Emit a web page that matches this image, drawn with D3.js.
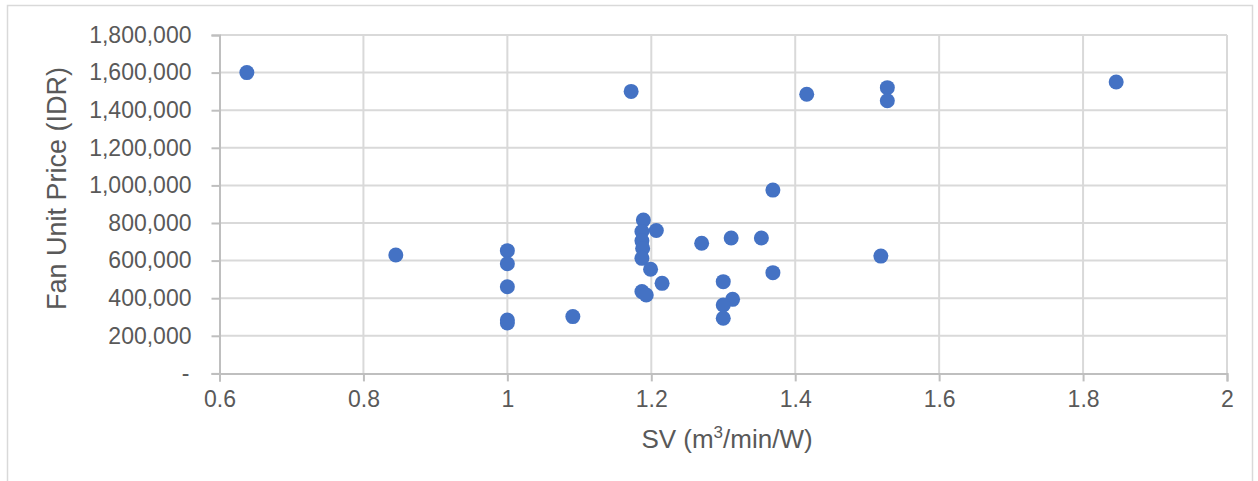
<!DOCTYPE html>
<html>
<head>
<meta charset="utf-8">
<script src="https://cdn.jsdelivr.net/npm/d3@7"></script>
<style>
  html, body { margin: 0; padding: 0; background: #ffffff; }
  svg { display: block; }
  text { font-family: "Liberation Sans", Arial, sans-serif; fill: #595959; }
</style>
</head>
<body>
<svg id="chart" width="1258" height="481"></svg>
<script>
// ---- Data ----
const svValues = [0.638, 1.172, 1.416, 1.528, 1.528, 1.846, 1.369, 1.189, 1.207, 1.187, 1.187, 1.188, 1.187,
                  1.270, 1.311, 1.353, 1.199, 1.215, 1.187, 1.193, 1.000, 1.000, 1.000, 1.000, 1.000,
                  1.091, 0.845, 1.300, 1.313, 1.300, 1.300, 1.369, 1.519];
const priceValues = [1600000, 1500000, 1485000, 1520000, 1450000, 1550000, 975000, 816000, 760000, 755000, 705000, 665000, 612000,
                     692000, 720000, 720000, 554000, 479000, 435000, 417000, 653000, 583000, 461000, 284000, 268000,
                     302000, 630000, 488000, 394000, 364000, 293000, 536000, 624000];
const xTicks = [0.6, 0.8, 1, 1.2, 1.4, 1.6, 1.8, 2];
const yTicks = [0, 200000, 400000, 600000, 800000, 1000000, 1200000, 1400000, 1600000, 1800000];
const xTitle = "SV (m";
const xTitleSup = "3";
const xTitleEnd = "/min/W)";
const yTitle = "Fan Unit Price (IDR)";

// ---- Layout ----
const svg = d3.select("#chart");
const plot = { left: 219.5, right: 1227, top: 35, bottom: 373.4 };

svg.append("rect")
  .attr("x", 7.5).attr("y", 5.5).attr("width", 1245).attr("height", 490)
  .attr("fill", "#ffffff").attr("stroke", "#d9d9d9").attr("stroke-width", 1.5);

const x = d3.scaleLinear().domain([0.6, 2]).range([plot.left, plot.right]);
const y = d3.scaleLinear().domain([0, 1800000]).range([plot.bottom, plot.top]);

// Gridlines
svg.append("g").selectAll("line").data(yTicks.filter(d => d > 0)).join("line")
  .attr("x1", plot.left).attr("x2", plot.right)
  .attr("y1", d => y(d)).attr("y2", d => y(d))
  .attr("stroke", "#d9d9d9").attr("stroke-width", 2);
svg.append("g").selectAll("line").data(xTicks.filter(d => d > 0.6)).join("line")
  .attr("x1", d => x(d)).attr("x2", d => x(d))
  .attr("y1", plot.top).attr("y2", plot.bottom)
  .attr("stroke", "#d9d9d9").attr("stroke-width", 2);

// Axes
const fmt = d3.format(",");
const yAxis = d3.axisLeft(y).tickValues(yTicks)
  .tickFormat(d => d === 0 ? "-" : fmt(d))
  .tickSize(8).tickPadding(20);
const gy = svg.append("g").attr("transform", `translate(${plot.left},0)`).call(yAxis);
gy.select(".domain").attr("stroke", "#bfbfbf").attr("stroke-width", 2);
gy.selectAll(".tick line").attr("stroke", "#bfbfbf").attr("stroke-width", 2);
gy.selectAll(".tick text").attr("font-size", 23).attr("fill", "#595959")
  .style("font-family", "'Liberation Sans', Arial, sans-serif")
  .attr("dx", d => d === 0 ? -2 : 0);

const xAxis = d3.axisBottom(x).tickValues(xTicks)
  .tickFormat(d => String(d))
  .tickSize(8).tickPadding(9);
const gx = svg.append("g").attr("transform", `translate(0,${plot.bottom})`).call(xAxis);
gx.select(".domain").attr("stroke", "#bfbfbf").attr("stroke-width", 2);
gx.selectAll(".tick line").attr("stroke", "#bfbfbf").attr("stroke-width", 2);
gx.selectAll(".tick text").attr("font-size", 23).attr("fill", "#595959")
  .style("font-family", "'Liberation Sans', Arial, sans-serif");

// Titles
const xt = svg.append("text")
  .attr("x", 727).attr("y", 448)
  .attr("text-anchor", "middle")
  .attr("font-size", 26);
xt.append("tspan").text(xTitle);
xt.append("tspan").attr("dy", -10).attr("font-size", 17).text(xTitleSup);
xt.append("tspan").attr("dy", 10).text(xTitleEnd);

svg.append("text")
  .attr("transform", "translate(66,188.5) rotate(-90)")
  .attr("text-anchor", "middle")
  .attr("font-size", 27)
  .text(yTitle);

// Points
const pts = d3.zip(svValues, priceValues);
svg.append("g").selectAll("circle").data(pts).join("circle")
  .attr("cx", d => x(d[0])).attr("cy", d => y(d[1]))
  .attr("r", 7.5)
  .attr("fill", "#4472C4");
</script>
</body>
</html>
